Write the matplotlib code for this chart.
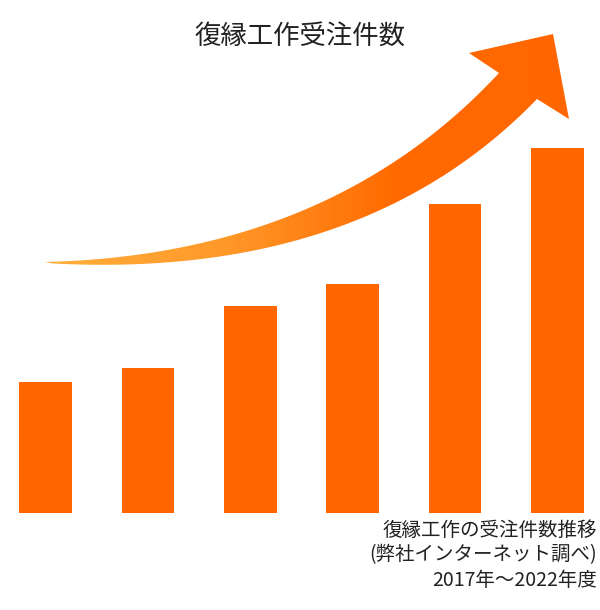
import numpy as np
import matplotlib
matplotlib.use("Agg")
import matplotlib.pyplot as plt
from matplotlib.path import Path
from matplotlib.patches import PathPatch
from matplotlib.colors import LinearSegmentedColormap

plt.rcParams['font.family'] = ['Noto Sans CJK JP', 'DejaVu Sans']

# data (relative order counts)
years = ["2017", "2018", "2019", "2020", "2021", "2022"]
counts = [131, 145, 207, 229, 309, 365]
title = "復縁工作受注件数"
note_lines = ["復縁工作の受注件数推移", "(弊社インターネット調べ)", "2017年〜2022年度"]

W, H = 600, 610
fig = plt.figure(figsize=(W / 100, H / 100), dpi=100)
fig.patch.set_facecolor("white")

# bar axes, bottom of bars at y=513 px
pitch = 102.4
x0 = -45.5 / pitch
ax = fig.add_axes([0, (H - 513) / H, 1, 513 / H])
ax.bar(np.arange(len(years)), counts, width=0.515, color="#FF6600")
ax.set_xlim(x0, x0 + W / pitch)
ax.set_ylim(0, 513)
ax.axis("off")

# overlay in pixel coords for the arrow
ov = fig.add_axes([0, 0, 1, 1], zorder=3)
ov.set_xlim(0, W)
ov.set_ylim(H, 0)
ov.axis("off")


def bez(p0, p1, p2, n=80):
    t = np.linspace(0, 1, n)[:, None]
    return (1 - t) ** 2 * np.array(p0) + 2 * t * (1 - t) * np.array(p1) + t ** 2 * np.array(p2)


upper = bez((45, 262), (330, 255), (499, 73))
lower = bez((45, 263), (360, 282), (537, 99))
head = np.array([(499, 73), (469, 53), (553, 34), (569, 119), (537, 99)])
pts = np.vstack([upper, head, lower[::-1]])
codes = [Path.MOVETO] + [Path.LINETO] * (len(pts) - 2) + [Path.CLOSEPOLY]
arrow = PathPatch(Path(pts, codes), facecolor="none", edgecolor="none")
ov.add_patch(arrow)

cmap = LinearSegmentedColormap.from_list("arr", ["#FFAE3C", "#FF9A2A", "#FF6A00", "#FF6600"])
grad = np.linspace(0, 1, 256)[None, :]
im = ov.imshow(grad, cmap=cmap, extent=(40, 575, 270, 30), aspect="auto", interpolation="bilinear")
im.set_clip_path(arrow)
ov.set_xlim(0, W)
ov.set_ylim(H, 0)

fig.text(0.5, 1 - 36 / H, title, ha="center", va="center", fontsize=19, color="#222222")
for i, line in enumerate(note_lines):
    fig.text(597 / W, 1 - (530 + 25 * i) / H, line, ha="right", va="center",
             fontsize=14, color="#222222")

fig.savefig("out.png", dpi=100, facecolor="white")
